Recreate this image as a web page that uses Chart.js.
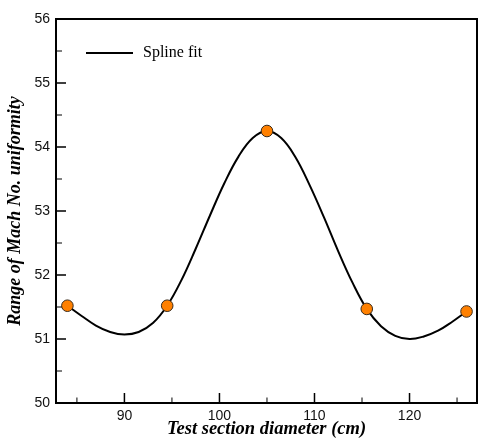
<!DOCTYPE html>
<html>
<head>
<meta charset="utf-8">
<script src="https://cdn.jsdelivr.net/npm/chart.js@4.4.1/dist/chart.umd.min.js"></script>
<style>
  html, body { margin: 0; padding: 0; background: #fff; }
  #chart { display: block; }
</style>
</head>
<body>
<canvas id="chart" width="478" height="440"></canvas>
<script>
// Measured points (test section diameter in cm, range of Mach no. uniformity)
const pointX = [84, 94.5, 105, 115.5, 126];
const pointY = [51.52, 51.52, 54.25, 51.47, 51.43];

// Spline fit line
const curveX = [84, 85.5, 87, 88.5, 90, 91.5, 93, 94.5, 96, 97.5, 99, 100.5, 102, 103.5, 105,
                106.5, 108, 109.5, 111, 112.5, 114, 115.5, 117, 118.5, 120, 121.5, 123, 124.5, 126];
const curveY = [51.52, 51.36, 51.21, 51.11, 51.07, 51.11, 51.25, 51.52, 51.92, 52.41, 52.93, 53.43, 53.85, 54.14, 54.25,
                54.14, 53.84, 53.40, 52.90, 52.37, 51.88, 51.47, 51.20, 51.05, 51.00, 51.04, 51.13, 51.27, 51.43];

// Axis ticks
const xTicks = [90, 100, 110, 120];
const xMinorTicks = [85, 95, 105, 115, 125];
const yTicks = [50, 51, 52, 53, 54, 55, 56];
const yMinorTicks = [50.5, 51.5, 52.5, 53.5, 54.5, 55.5];

const tickFont = { family: 'Liberation Sans, Arial, sans-serif', size: 14 };
const titleFont = { family: 'Liberation Serif, Times New Roman, serif', size: 18.5, style: 'italic', weight: 'bold' };

// Frame and inward tick marks
const frameAndTicks = {
    id: 'frameAndTicks',
    beforeDatasetsDraw(chart) {
        const { ctx, chartArea: a, scales: { x, y } } = chart;
        ctx.save();
        ctx.strokeStyle = '#000';

        ctx.lineWidth = 1.5;
        ctx.beginPath();
        yTicks.forEach(v => {
            const py = y.getPixelForValue(v);
            ctx.moveTo(a.left, py);
            ctx.lineTo(a.left + 10, py);
        });
        xTicks.forEach(v => {
            const px = x.getPixelForValue(v);
            ctx.moveTo(px, a.bottom);
            ctx.lineTo(px, a.bottom - 10);
        });
        ctx.stroke();

        ctx.lineWidth = 1;
        ctx.beginPath();
        yMinorTicks.forEach(v => {
            const py = y.getPixelForValue(v);
            ctx.moveTo(a.left, py);
            ctx.lineTo(a.left + 6, py);
        });
        xMinorTicks.forEach(v => {
            const px = x.getPixelForValue(v);
            ctx.moveTo(px, a.bottom);
            ctx.lineTo(px, a.bottom - 5.5);
        });
        ctx.stroke();

        ctx.lineWidth = 2;
        ctx.strokeRect(a.left, a.top, a.right - a.left, a.bottom - a.top);
        ctx.restore();
    }
};

// Legend box in the top left corner
const legendInside = {
    id: 'legendInside',
    afterDraw(chart) {
        const ctx = chart.ctx;
        ctx.save();
        ctx.strokeStyle = '#000';
        ctx.lineWidth = 2;
        ctx.beginPath();
        ctx.moveTo(86, 53);
        ctx.lineTo(133, 53);
        ctx.stroke();
        ctx.fillStyle = '#000';
        ctx.font = '16px "Liberation Serif", "Times New Roman", serif';
        ctx.textBaseline = 'alphabetic';
        ctx.fillText('Spline fit', 143, 57);
        ctx.restore();
    }
};

new Chart(document.getElementById('chart'), {
    type: 'line',
    data: {
        datasets: [
            {
                label: 'Measured',
                data: pointX.map((v, i) => ({ x: v, y: pointY[i] })),
                showLine: false,
                pointRadius: 5.8,
                pointBackgroundColor: '#ff8000',
                pointBorderColor: '#3a2a1a',
                pointBorderWidth: 1,
                order: 0
            },
            {
                label: 'Spline fit',
                data: curveX.map((v, i) => ({ x: v, y: curveY[i] })),
                borderColor: '#000',
                borderWidth: 2,
                pointRadius: 0,
                tension: 0.4,
                fill: false,
                order: 1
            }
        ]
    },
    options: {
        responsive: false,
        animation: false,
        devicePixelRatio: 1,
        layout: { autoPadding: false, padding: { top: 19, right: 1, left: 0, bottom: 0 } },
        plugins: {
            legend: { display: false },
            tooltip: { enabled: false }
        },
        scales: {
            x: {
                type: 'linear',
                min: 82.8,
                max: 127.1,
                grid: { display: false, drawTicks: false },
                border: { display: false },
                afterBuildTicks: s => { s.ticks = xTicks.map(v => ({ value: v })); },
                afterFit: s => {
                    s.height = 37;
                    s.paddingLeft = 0;
                    s.paddingRight = 0;
                },
                ticks: { padding: 5, font: tickFont, color: '#111' },
                title: {
                    display: true,
                    text: 'Test section diameter (cm)',
                    font: titleFont,
                    color: '#000',
                    padding: { top: 0, bottom: 0 }
                }
            },
            y: {
                type: 'linear',
                min: 50,
                max: 56,
                grid: { display: false, drawTicks: false },
                border: { display: false },
                afterBuildTicks: s => { s.ticks = yTicks.map(v => ({ value: v })); },
                afterFit: s => {
                    s.width = 56;
                    s.paddingTop = 0;
                    s.paddingBottom = 0;
                },
                ticks: { padding: 6, font: tickFont, color: '#111' },
                title: {
                    display: true,
                    text: 'Range of Mach No. uniformity',
                    font: { ...titleFont, size: 18 },
                    color: '#000',
                    padding: { top: 5, bottom: 0 }
                }
            }
        }
    },
    plugins: [frameAndTicks, legendInside]
});
</script>
</body>
</html>
